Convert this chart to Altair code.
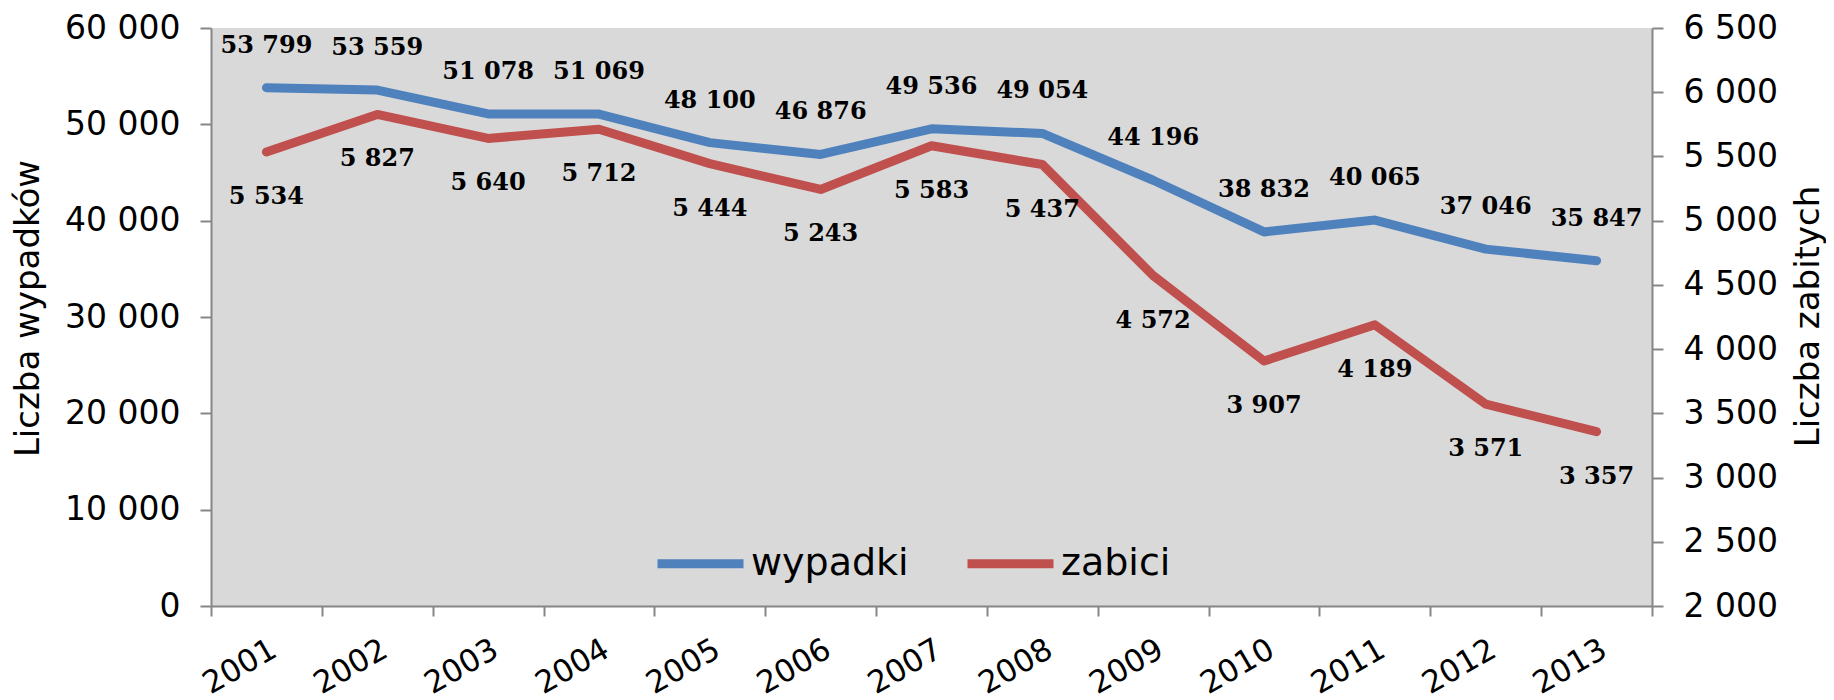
import altair as alt
import pandas as pd

years = ["2001", "2002", "2003", "2004", "2005", "2006", "2007", "2008", "2009", "2010", "2011", "2012", "2013"]
wypadki = [53799, 53559, 51078, 51069, 48100, 46876, 49536, 49054, 44196, 38832, 40065, 37046, 35847]
zabici = [5534, 5827, 5640, 5712, 5444, 5243, 5583, 5437, 4572, 3907, 4189, 3571, 3357]
series = ["wypadki", "zabici"]
colors = ["#4F81BD", "#C0504D"]

df = pd.DataFrame({"rok": years, "wypadki": wypadki, "zabici": zabici})

FONT = "DejaVu Sans"
LFONT = "DejaVu Serif"
fmt = "replace(format(datum.value, ','), ',', ' ')"
AX = "#868686"

x = alt.X(
    "rok:O",
    scale=alt.Scale(type="band", paddingInner=0, paddingOuter=0),
    axis=alt.Axis(
        title=None, tickBand="extent", labelAngle=-30, labelAlign="right",
        labelBaseline="top", labelFontSize=31, labelFont=FONT, labelColor="black",
        tickSize=10, labelPadding=18, domainColor=AX, tickColor=AX,
        domainWidth=2, tickWidth=2,
    ),
)

color = alt.Color(
    "seria:N",
    scale=alt.Scale(domain=series, range=colors),
    legend=alt.Legend(
        title=None, orient="none", legendX=442, legendY=488, direction="horizontal",
        symbolType="stroke", symbolStrokeWidth=9, symbolSize=7396,
        labelFontSize=38, labelFont=FONT, labelColor="black", labelOffset=3,
        columnPadding=40,
    ),
)

left_scale = alt.Scale(domain=[0, 60000], nice=False)
right_scale = alt.Scale(domain=[2000, 6500], nice=False)

left_axis = alt.Axis(
    title="Liczba wypadków", values=list(range(0, 60001, 10000)), labelExpr=fmt,
    grid=False, tickSize=11, labelPadding=20, labelFontSize=33, labelFont=FONT,
    labelColor="black", domainColor=AX, tickColor=AX, domainWidth=2, tickWidth=2,
    titleFont=FONT, titleFontSize=34, titleFontWeight="normal", titleColor="black",
    titleX=-183, titleY=280, titleAngle=-90, titleAlign="center", titleBaseline="middle",
)
right_axis = alt.Axis(
    title="Liczba zabitych", orient="right", values=list(range(2000, 6501, 500)), labelExpr=fmt,
    grid=False, tickSize=11, labelPadding=20, labelFontSize=33, labelFont=FONT,
    labelColor="black", domainColor=AX, tickColor=AX, domainWidth=2, tickWidth=2,
    titleFont=FONT, titleFontSize=34, titleFontWeight="normal", titleColor="black",
    titleX=156, titleY=288, titleAngle=-90, titleAlign="center", titleBaseline="middle",
)

base = alt.Chart(df)

line_w = base.transform_calculate(seria="'wypadki'").mark_line(
    strokeWidth=9, strokeCap="round", strokeJoin="round"
).encode(x=x, y=alt.Y("wypadki:Q", scale=left_scale, axis=left_axis), color=color)

text_w = base.transform_calculate(
    lab="replace(format(datum.wypadki, ','), ',', ' ')"
).mark_text(font=LFONT, fontSize=24, fontWeight="bold", color="black", dy=-42, baseline="middle").encode(
    x=x, y=alt.Y("wypadki:Q", scale=left_scale, axis=left_axis), text="lab:N"
)

line_z = base.transform_calculate(seria="'zabici'").mark_line(
    strokeWidth=9, strokeCap="round", strokeJoin="round"
).encode(x=x, y=alt.Y("zabici:Q", scale=right_scale, axis=right_axis), color=color)

text_z = base.transform_calculate(
    lab="replace(format(datum.zabici, ','), ',', ' ')"
).mark_text(font=LFONT, fontSize=24, fontWeight="bold", color="black", dy=45, baseline="middle").encode(
    x=x, y=alt.Y("zabici:Q", scale=right_scale, axis=right_axis), text="lab:N"
)

left = alt.layer(line_w, text_w)
right = alt.layer(line_z, text_z)

chart = alt.layer(left, right).resolve_scale(y="independent").properties(
    width=1441, height=578,
    autosize=alt.AutoSizeParams(type="none"),
    padding={"left": 203, "top": 20, "right": 174, "bottom": 94},
    background="white",
).configure_view(fill="#D9D9D9", stroke=None)

chart.save("out.html", embed_options={"renderer": "svg", "actions": False})
